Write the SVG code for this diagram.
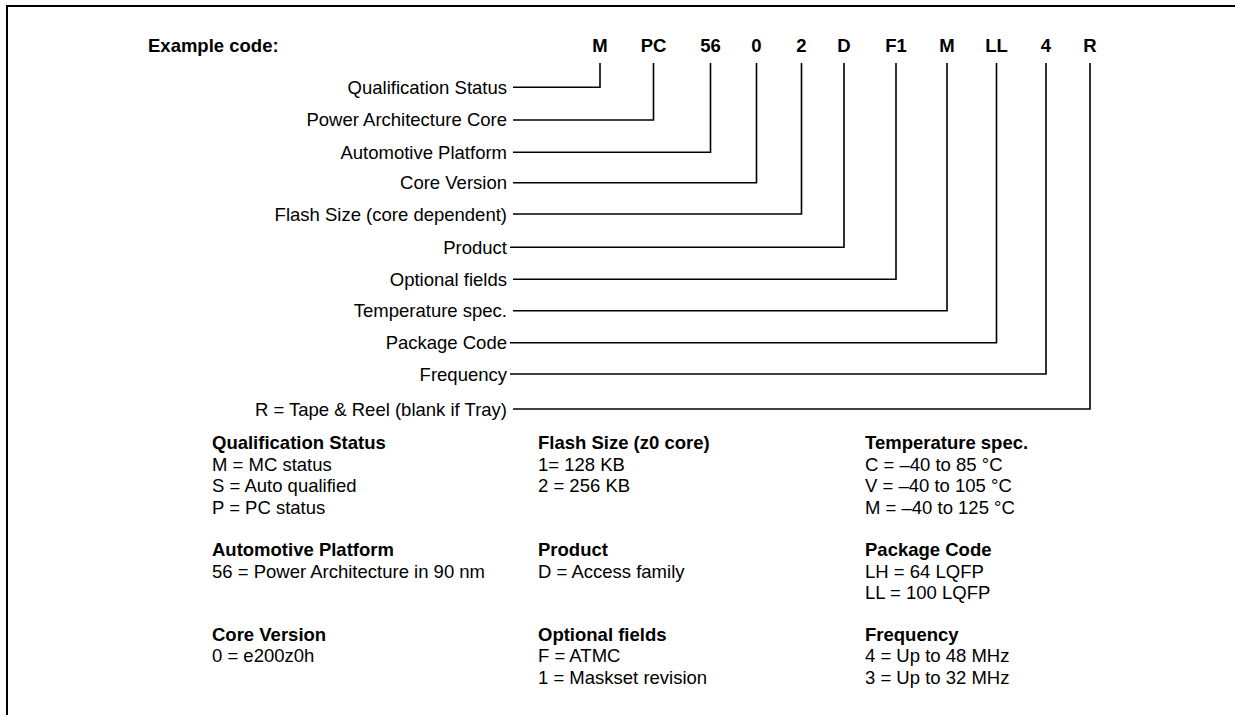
<svg xmlns="http://www.w3.org/2000/svg" width="1235" height="715" viewBox="0 0 1235 715">
<style>
text{font-family:"Liberation Sans",Arial,sans-serif;font-size:18.5px;fill:#000}
.b{font-weight:bold}
.c{font-weight:bold;text-anchor:middle}
.l{text-anchor:end}
.w{fill:none;stroke:#000;stroke-width:1.6}
.f{fill:none;stroke:#000;stroke-width:2}
</style>
<rect width="1235" height="715" fill="#fff"/>
<path class="f" d="M7 715 V6 H1235"/>
<g id="header">
<text class="b" x="148" y="52">Example code:</text>
</g>
<g id="code">
<text class="c" x="600" y="52">M</text>
<text class="c" x="653.5" y="52">PC</text>
<text class="c" x="710.5" y="52">56</text>
<text class="c" x="756.5" y="52">0</text>
<text class="c" x="801.5" y="52">2</text>
<text class="c" x="844" y="52">D</text>
<text class="c" x="896" y="52">F1</text>
<text class="c" x="947" y="52">M</text>
<text class="c" x="996.5" y="52">LL</text>
<text class="c" x="1046" y="52">4</text>
<text class="c" x="1090" y="52">R</text>
</g>
<g id="labels">
<text class="l" x="507" y="93.5">Qualification Status</text>
<text class="l" x="507" y="126">Power Architecture Core</text>
<text class="l" x="507" y="158.5">Automotive Platform</text>
<text class="l" x="507" y="189">Core Version</text>
<text class="l" x="507" y="220.5">Flash Size (core dependent)</text>
<text class="l" x="507" y="253.5">Product</text>
<text class="l" x="507" y="285.5">Optional fields</text>
<text class="l" x="507" y="317">Temperature spec.</text>
<text class="l" x="507" y="349">Package Code</text>
<text class="l" x="507" y="380.5">Frequency</text>
<text class="l" x="507" y="415.5">R = Tape &amp; Reel (blank if Tray)</text>
</g>
<g id="connectors">
<path class="w" d="M513 87.3 H600 V63"/>
<path class="w" d="M513 120 H653.5 V63"/>
<path class="w" d="M513 152.3 H710.5 V63"/>
<path class="w" d="M513 182.7 H756.5 V63"/>
<path class="w" d="M513 214 H801.5 V63"/>
<path class="w" d="M510 247.3 H844 V63"/>
<path class="w" d="M513 279.3 H896 V63"/>
<path class="w" d="M513 310.7 H947 V63"/>
<path class="w" d="M510 342.7 H996.5 V63"/>
<path class="w" d="M510 374 H1046 V63"/>
<path class="w" d="M513 409 H1090 V63"/>
</g>
<g id="legend-qualification">
<text class="b" x="212" y="449">Qualification Status</text>
<text x="212" y="470.5">M = MC status</text>
<text x="212" y="492">S = Auto qualified</text>
<text x="212" y="513.5">P = PC status</text>
</g>
<g id="legend-platform">
<text class="b" x="212" y="556">Automotive Platform</text>
<text x="212" y="577.5">56 = Power Architecture in 90 nm</text>
</g>
<g id="legend-core">
<text class="b" x="212" y="640.5">Core Version</text>
<text x="212" y="662">0 = e200z0h</text>
</g>
<g id="legend-flash">
<text class="b" x="538" y="449">Flash Size (z0 core)</text>
<text x="538" y="470.5">1= 128 KB</text>
<text x="538" y="492">2 = 256 KB</text>
</g>
<g id="legend-product">
<text class="b" x="538" y="556">Product</text>
<text x="538" y="577.5">D = Access family</text>
</g>
<g id="legend-optional">
<text class="b" x="538" y="640.5">Optional fields</text>
<text x="538" y="662">F = ATMC</text>
<text x="538" y="683.5">1 = Maskset revision</text>
</g>
<g id="legend-temperature">
<text class="b" x="865" y="449">Temperature spec.</text>
<text x="865" y="470.5">C = –40 to 85 °C</text>
<text x="865" y="492">V = –40 to 105 °C</text>
<text x="865" y="513.5">M = –40 to 125 °C</text>
</g>
<g id="legend-package">
<text class="b" x="865" y="556">Package Code</text>
<text x="865" y="577.5">LH = 64 LQFP</text>
<text x="865" y="598.5">LL = 100 LQFP</text>
</g>
<g id="legend-frequency">
<text class="b" x="865" y="640.5">Frequency</text>
<text x="865" y="662">4 = Up to 48 MHz</text>
<text x="865" y="683.5">3 = Up to 32 MHz</text>
</g>
</svg>
